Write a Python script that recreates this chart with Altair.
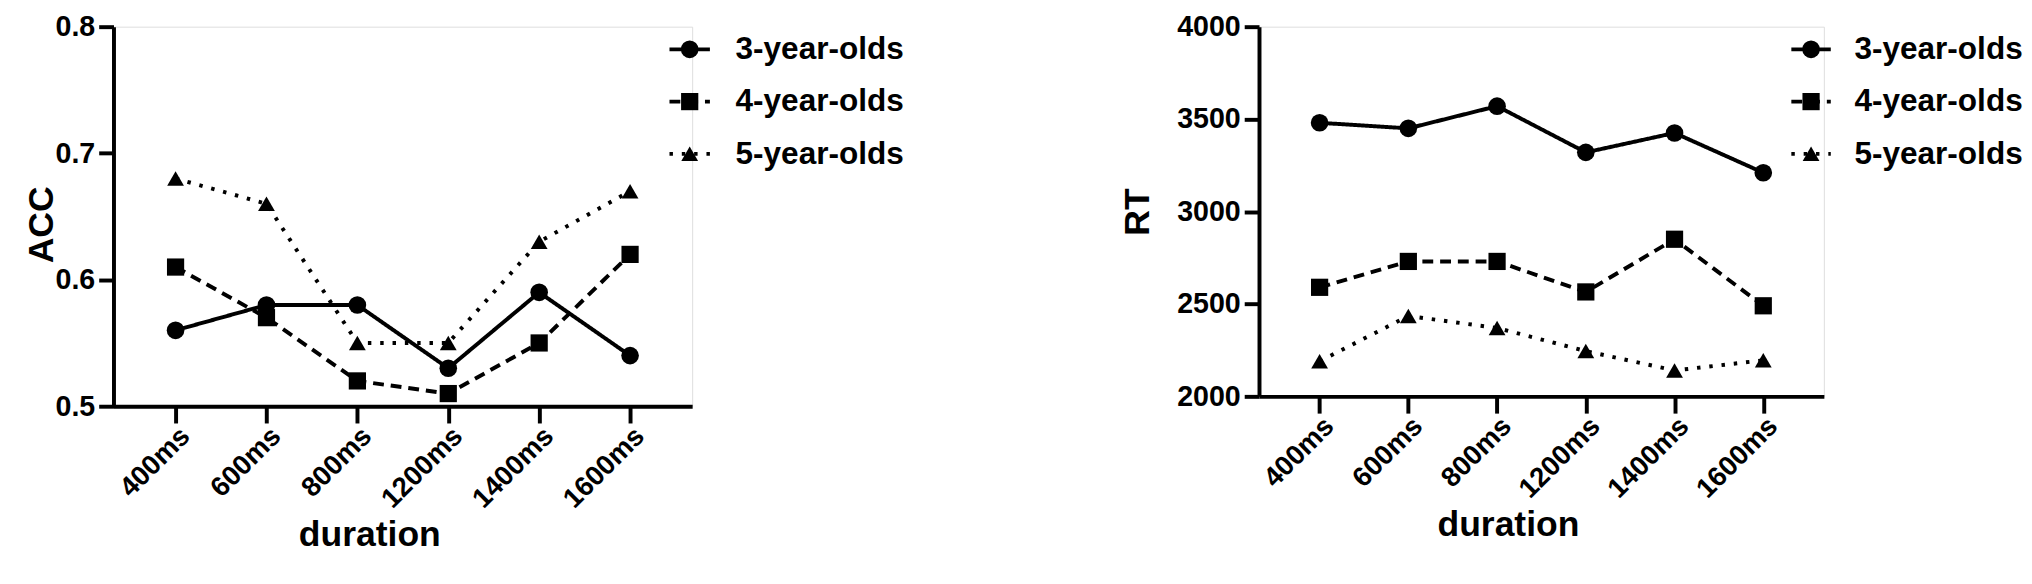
import altair as alt
import pandas as pd

durations = ["400ms", "600ms", "800ms", "1200ms", "1400ms", "1600ms"]
groups = ["3-year-olds", "4-year-olds", "5-year-olds"]

acc_3 = [0.56, 0.58, 0.58, 0.53, 0.59, 0.54]
acc_4 = [0.61, 0.57, 0.52, 0.51, 0.55, 0.62]
acc_5 = [0.68, 0.66, 0.55, 0.55, 0.63, 0.67]

rt_3 = [3480, 3450, 3570, 3320, 3425, 3210]
rt_4 = [2590, 2730, 2730, 2565, 2850, 2490]
rt_5 = [2190, 2435, 2370, 2245, 2140, 2195]

acc_ticks = [0.5, 0.6, 0.7, 0.8]
rt_ticks = [2000, 2500, 3000, 3500, 4000]

FONT = "Liberation Sans"


def make_df(series):
    rows = []
    for g, vals in zip(groups, series):
        for d, v in zip(durations, vals):
            rows.append({"duration": d, "group": g, "value": v})
    return pd.DataFrame(rows)


dash_scale = alt.Scale(domain=groups, range=[[1, 0], [11, 7], [3.5, 9]])
shape_scale = alt.Scale(domain=groups, range=["circle", "square", "triangle-up"])
size_scale = alt.Scale(domain=groups, range=[320, 290, 650])


def panel(series, ytitle, ydomain, yticks, yfmt, w, h, leg_range, leg_dx, title_pad_y, title_y):
    df = make_df(series)
    yaxis_kw = dict(
        title=ytitle,
        values=yticks,
        format=yfmt,
        labelFontSize=29,
        labelFont=FONT,
        labelFontWeight="bold",
        labelColor="black",
        titleFontSize=36,
        titleFont=FONT,
        titleFontWeight="bold",
        titleColor="black",
        titlePadding=title_pad_y,
        tickSize=15,
        tickWidth=4,
        tickColor="black",
        domainWidth=4,
        domainColor="black",
        labelPadding=4,
        grid=False,
    )
    if title_y is not None:
        yaxis_kw["titleY"] = title_y
    base = alt.Chart(df).encode(
        x=alt.X(
            "duration:N",
            sort=durations,
            scale=alt.Scale(type="point", padding=0.683),
            axis=alt.Axis(
                title="duration",
                labelAngle=-45,
                labelFontSize=28,
                labelFont=FONT,
                labelFontWeight="bold",
                labelColor="black",
                titleFontSize=36,
                titleFont=FONT,
                titleFontWeight="bold",
                titleColor="black",
                titlePadding=5,
                titleX=w / 2 - 34,
                tickSize=17,
                tickWidth=4,
                tickColor="black",
                domainWidth=4,
                domainColor="black",
                labelPadding=-1,
            ),
        ),
        y=alt.Y(
            "value:Q",
            scale=alt.Scale(domain=ydomain, nice=False, zero=False),
            axis=alt.Axis(**yaxis_kw),
        ),
    )
    lines = base.mark_line(color="black", strokeWidth=4).encode(
        strokeDash=alt.StrokeDash("group:N", scale=dash_scale, legend=None),
        detail="group:N",
    )
    points = base.mark_point(filled=True, color="black", opacity=1).encode(
        shape=alt.Shape("group:N", scale=shape_scale, legend=None),
        size=alt.Size("group:N", scale=size_scale, legend=None),
    )
    plot = alt.layer(lines, points)

    leg = pd.DataFrame({"group": groups})
    lx = alt.Scale(domain=[0, 1], range=leg_range)
    ly = alt.Y(
        "group:N",
        sort=groups,
        scale=alt.Scale(type="point", padding=0, range=[23, 129]),
        axis=None,
    )
    lbase = alt.Chart(leg)
    lrule = lbase.mark_rule(color="black", strokeWidth=4).encode(
        x=alt.X(datum=0, type="quantitative", scale=lx, axis=None),
        x2=alt.X2(datum=1),
        y=ly,
        strokeDash=alt.StrokeDash("group:N", scale=dash_scale, legend=None),
    )
    lpts = lbase.mark_point(filled=True, color="black", opacity=1).encode(
        x=alt.X(datum=0.5, type="quantitative", scale=lx, axis=None),
        y=ly,
        shape=alt.Shape("group:N", scale=shape_scale, legend=None),
        size=alt.Size("group:N", scale=size_scale, legend=None),
    )
    ltxt = lbase.mark_text(
        align="left",
        baseline="middle",
        dx=leg_dx,
        font=FONT,
        fontWeight="bold",
        fontSize=32,
        color="black",
    ).encode(
        x=alt.X(datum=1, type="quantitative", scale=lx, axis=None),
        y=ly,
        text="group:N",
    )
    legend = alt.layer(lrule, lpts, ltxt)

    return (
        alt.layer(plot, legend)
        .resolve_scale(x="independent", y="independent")
        .properties(width=w, height=h)
    )


left = panel([acc_3, acc_4, acc_5], "ACC", [0.5, 0.8], acc_ticks, ".1f", 587, 385,
             [564, 605], 26, -5, 385 / 2 + 8)
right = panel([rt_3, rt_4, rt_5], "RT", [2000, 4000], rt_ticks, "d", 573, 375,
              [540, 580], 24, 21, None)

chart = (
    alt.hconcat(left, right, spacing=216)
    .properties(padding={"left": 15, "top": 0, "right": 0, "bottom": 0})
    .configure_view(stroke=None)
    .configure(background="white")
)

chart.save("out.html", embed_options={"renderer": "svg", "actions": False})
